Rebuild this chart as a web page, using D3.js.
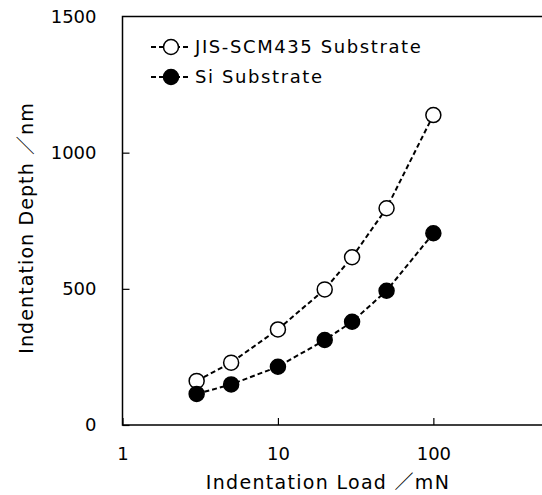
<!DOCTYPE html>
<html>
<head>
<meta charset="utf-8">
<script src="https://cdn.jsdelivr.net/npm/d3@7"></script>
<style>
  html, body { margin: 0; padding: 0; background: #fff; }
  svg text { font-family: "DejaVu Sans", "Noto Sans CJK JP", sans-serif; fill: #000; }
</style>
</head>
<body>
<div id="chart"></div>
<script>
// indentation load (mN)
const loads = [3, 5, 10, 20, 30, 50, 100];
// indentation depth (nm)
const scmDepth = [162, 229, 351, 498, 616, 796, 1138];
const siDepth = [114, 149, 214, 312, 379, 493, 704];
const seriesNames = ['JIS-SCM435 Substrate', 'Si Substrate'];
const xTicks = [1, 10, 100];
const yTicks = [0, 500, 1000, 1500];

const width = 542;
const height = 495;
const margin = { top: 16.5, right: 0, bottom: 70, left: 122.5 };
const innerW = width - margin.left - margin.right;
const innerH = height - margin.top - margin.bottom;

const svg = d3.select('#chart')
  .append('svg')
  .attr('width', width)
  .attr('height', height);

const g = svg.append('g')
  .attr('transform', `translate(${margin.left},${margin.top})`);

const x = d3.scaleLog().domain([1, 500]).range([0, innerW]);
const y = d3.scaleLinear().domain([0, 1500]).range([innerH, 0]);

// frame: left, bottom and top
g.append('path')
  .attr('d', `M${innerW},0H0V${innerH}H${innerW}`)
  .attr('fill', 'none')
  .attr('stroke', '#000')
  .attr('stroke-width', 1.5);

// x axis
const xAxis = g.append('g')
  .attr('transform', `translate(0,${innerH})`)
  .call(d3.axisBottom(x).tickValues(xTicks).tickSize(-7).tickPadding(22).tickFormat(d3.format('d')));
xAxis.select('.domain').remove();
xAxis.selectAll('line').attr('stroke-width', 1.2);
xAxis.selectAll('text').attr('font-size', 18).attr('font-family', 'DejaVu Sans');

// y axis
const yAxis = g.append('g')
  .call(d3.axisLeft(y).tickValues(yTicks).tickSize(-7).tickPadding(26).tickFormat(d3.format('d')));
yAxis.select('.domain').remove();
yAxis.selectAll('line').attr('stroke-width', 1.2);
yAxis.selectAll('text').attr('font-size', 18).attr('font-family', 'DejaVu Sans');
yAxis.selectAll('.tick').filter(d => d === 1500).select('line').remove();

// axis titles
svg.append('text')
  .attr('x', 328)
  .attr('y', 489)
  .attr('text-anchor', 'middle')
  .attr('font-size', 19)
  .attr('letter-spacing', 1.3)
  .text('Indentation Load ／mN');

svg.append('text')
  .attr('transform', 'translate(33,228) rotate(-90)')
  .attr('text-anchor', 'middle')
  .attr('font-size', 19)
  .attr('letter-spacing', 1.1)
  .text('Indentation Depth ／nm');

const line = d3.line()
  .x(d => x(d[0]))
  .y(d => y(d[1]));

const series = [
  { name: seriesNames[0], values: scmDepth, fill: '#fff' },
  { name: seriesNames[1], values: siDepth, fill: '#000' }
];

series.forEach(s => {
  const pts = loads.map((l, i) => [l, s.values[i]]);
  g.append('path')
    .datum(pts)
    .attr('fill', 'none')
    .attr('stroke', '#000')
    .attr('stroke-width', 2)
    .attr('stroke-dasharray', '5,3')
    .attr('d', line);
  g.selectAll(null)
    .data(pts)
    .enter()
    .append('circle')
    .attr('cx', d => x(d[0]))
    .attr('cy', d => y(d[1]))
    .attr('r', 7.5)
    .attr('fill', s.fill)
    .attr('stroke', '#000')
    .attr('stroke-width', 1.5);
});

// legend
const legend = svg.append('g');
series.forEach((s, i) => {
  const ly = 47 + i * 30;
  legend.append('line')
    .attr('x1', 151).attr('x2', 191)
    .attr('y1', ly).attr('y2', ly)
    .attr('stroke', '#000')
    .attr('stroke-width', 2)
    .attr('stroke-dasharray', '5,3');
  legend.append('circle')
    .attr('cx', 171).attr('cy', ly)
    .attr('r', 7.5)
    .attr('fill', s.fill)
    .attr('stroke', '#000')
    .attr('stroke-width', 1.5);
  legend.append('text')
    .attr('x', 195)
    .attr('y', ly)
    .attr('dy', '0.35em')
    .attr('font-size', 18)
    .attr('letter-spacing', 1.6)
    .text(s.name);
});
</script>
</body>
</html>
